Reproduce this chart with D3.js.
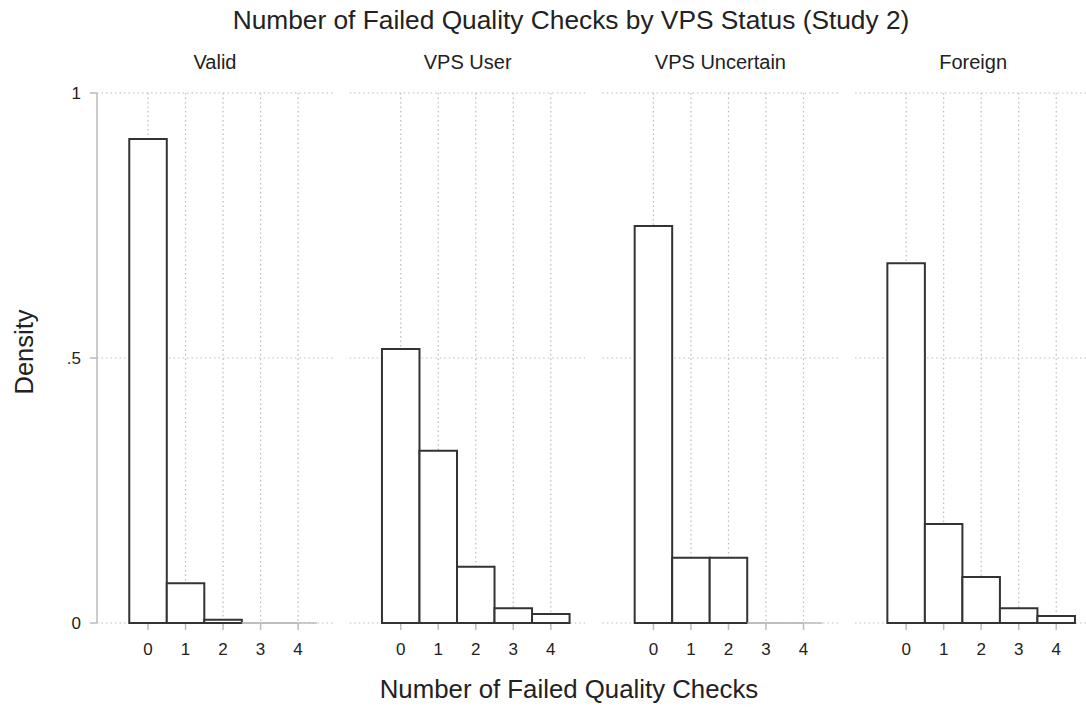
<!DOCTYPE html>
<html>
<head>
<meta charset="utf-8">
<script src="https://cdn.jsdelivr.net/npm/d3@7"></script>
<style>
  body { margin: 0; background: #fff; }
  text { font-family: "Liberation Sans", Arial, sans-serif; fill: #222; }
</style>
</head>
<body>
<svg id="chart" width="1086" height="708"></svg>
<script>
// data
var panels = ["Valid", "VPS User", "VPS Uncertain", "Foreign"];
var checks = [0, 1, 2, 3, 4];
var validDensity = [0.913, 0.075, 0.006, 0, 0];
var userDensity = [0.517, 0.325, 0.106, 0.028, 0.017];
var uncertainDensity = [0.749, 0.123, 0.123, 0, 0];
var foreignDensity = [0.679, 0.187, 0.087, 0.028, 0.013];
var yTicks = [0, 0.5, 1];
var yTickLabels = ["0", ".5", "1"];

var series = [validDensity, userDensity, uncertainDensity, foreignDensity];

var svg = d3.select("#chart");

var plotTop = 93, plotBottom = 623;
var panelW = 236, panelStep = 252.7, left0 = 97;

var y = d3.scaleLinear().domain([0, 1]).range([plotBottom, plotTop]);

svg.append("text")
	.attr("x", 571).attr("y", 29)
	.attr("text-anchor", "middle")
	.style("font-size", "26.3px")
	.text("Number of Failed Quality Checks by VPS Status (Study 2)");

svg.append("text")
	.attr("x", 569).attr("y", 698)
	.attr("text-anchor", "middle")
	.style("font-size", "25.8px")
	.text("Number of Failed Quality Checks");

svg.append("text")
	.attr("transform", "translate(33,352) rotate(-90)")
	.attr("text-anchor", "middle")
	.style("font-size", "25.5px")
	.text("Density");

// y axis on first panel
var yAxis = svg.append("g");
yAxis.append("line")
	.attr("x1", left0).attr("x2", left0)
	.attr("y1", y(1)).attr("y2", y(0))
	.attr("stroke", "#bbb").attr("stroke-width", 1.5);
yTicks.forEach(function(t, i) {
	yAxis.append("line")
		.attr("x1", left0 - 7).attr("x2", left0)
		.attr("y1", y(t)).attr("y2", y(t))
		.attr("stroke", "#bbb").attr("stroke-width", 1.5);
	yAxis.append("text")
		.attr("x", left0 - 16).attr("y", y(t) + 6)
		.attr("text-anchor", "end")
		.style("font-size", "17px")
		.text(yTickLabels[i]);
});

series.forEach(function(vals, p) {
	var x0 = left0 + p * panelStep;
	var x = d3.scaleLinear().domain([-1.36, 4.93]).range([x0, x0 + panelW]);
	var bw = x(1) - x(0);
	var g = svg.append("g");

	g.append("text")
		.attr("x", x0 + panelW / 2).attr("y", 69)
		.attr("text-anchor", "middle")
		.style("font-size", "20px")
		.text(panels[p]);

	// grid
	yTicks.forEach(function(t) {
		g.append("line")
			.attr("x1", x0).attr("x2", x0 + panelW)
			.attr("y1", y(t)).attr("y2", y(t))
			.attr("stroke", "#bbb").attr("stroke-width", 1.2)
			.attr("stroke-dasharray", "1.5,3");
	});
	checks.forEach(function(c) {
		g.append("line")
			.attr("x1", x(c)).attr("x2", x(c))
			.attr("y1", y(1)).attr("y2", y(0))
			.attr("stroke", "#bbb").attr("stroke-width", 1.2)
			.attr("stroke-dasharray", "1.5,3");
	});

	// x axis
	g.append("line")
		.attr("x1", x(0)).attr("x2", x(4))
		.attr("y1", y(0)).attr("y2", y(0))
		.attr("stroke", "#bbb").attr("stroke-width", 1.5);
	checks.forEach(function(c) {
		g.append("line")
			.attr("x1", x(c)).attr("x2", x(c))
			.attr("y1", y(0)).attr("y2", y(0) + 7)
			.attr("stroke", "#bbb").attr("stroke-width", 1.5);
		g.append("text")
			.attr("x", x(c)).attr("y", y(0) + 32)
			.attr("text-anchor", "middle")
			.style("font-size", "17px")
			.text(c);
	});

	// bars
	g.selectAll("path.bar")
		.data(vals)
		.enter()
		.append("path")
		.attr("class", "bar")
		.attr("d", function(d, i) {
			var xl = x(checks[i]) - bw / 2, xr = x(checks[i]) + bw / 2;
			if (d === 0) return "M" + xl + "," + y(0) + "H" + xr;
			return "M" + xl + "," + y(0) + "V" + y(d) + "H" + xr + "V" + y(0) + "Z";
		})
		.attr("fill", "#fff")
		.attr("stroke", function(d) { return d === 0 ? "#bbb" : "#333"; })
		.attr("stroke-width", function(d) { return d === 0 ? 1.5 : 2; });
});
</script>
</body>
</html>
